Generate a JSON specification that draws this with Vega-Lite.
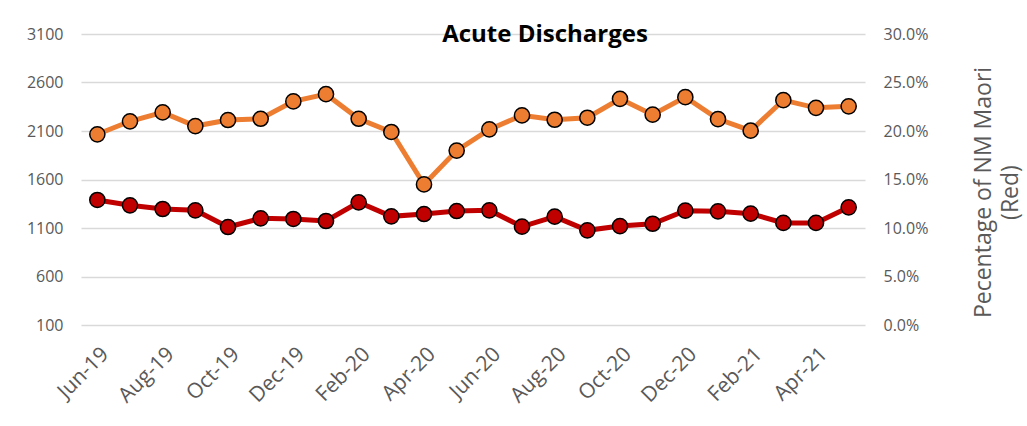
{
  "$schema": "https://vega.github.io/schema/vega-lite/v6.json",
  "autosize": "none",
  "width": 784,
  "height": 291,
  "padding": {"left": 81, "top": 34, "right": 162, "bottom": 101},
  "background": "white",
  "title": {"text": "Acute Discharges", "font": "Open Sans", "fontSize": 24, "fontWeight": "bold", "color": "#000000", "anchor": "middle", "dx": 72, "dy": 24, "offset": -16, "baseline": "alphabetic"},
  "data": {"values": [
    {"month": "Jun-19", "discharges": 2066, "pct": 0.1289},
    {"month": "Jul-19", "discharges": 2200, "pct": 0.1234},
    {"month": "Aug-19", "discharges": 2292, "pct": 0.1196},
    {"month": "Sep-19", "discharges": 2151, "pct": 0.1182},
    {"month": "Oct-19", "discharges": 2213, "pct": 0.1010},
    {"month": "Nov-19", "discharges": 2226, "pct": 0.1100},
    {"month": "Dec-19", "discharges": 2405, "pct": 0.1093},
    {"month": "Jan-20", "discharges": 2480, "pct": 0.1072},
    {"month": "Feb-20", "discharges": 2226, "pct": 0.1265},
    {"month": "Mar-20", "discharges": 2090, "pct": 0.1120},
    {"month": "Apr-20", "discharges": 1549, "pct": 0.1144},
    {"month": "May-20", "discharges": 1898, "pct": 0.1175},
    {"month": "Jun-20", "discharges": 2117, "pct": 0.1182},
    {"month": "Jul-20", "discharges": 2261, "pct": 0.1014},
    {"month": "Aug-20", "discharges": 2216, "pct": 0.1117},
    {"month": "Sep-20", "discharges": 2237, "pct": 0.0976},
    {"month": "Oct-20", "discharges": 2432, "pct": 0.1020},
    {"month": "Nov-20", "discharges": 2268, "pct": 0.1044},
    {"month": "Dec-20", "discharges": 2449, "pct": 0.1179},
    {"month": "Jan-21", "discharges": 2223, "pct": 0.1172},
    {"month": "Feb-21", "discharges": 2103, "pct": 0.1148},
    {"month": "Mar-21", "discharges": 2418, "pct": 0.1052},
    {"month": "Apr-21", "discharges": 2339, "pct": 0.1052},
    {"month": "May-21", "discharges": 2354, "pct": 0.1213}
  ]},
  "encoding": {
    "x": {
      "field": "month", "type": "ordinal", "sort": null,
      "scale": {"type": "point", "padding": 0.5},
      "axis": {
        "title": null, "values": ["Jun-19", "Aug-19", "Oct-19", "Dec-19", "Feb-20", "Apr-20", "Jun-20", "Aug-20", "Oct-20", "Dec-20", "Feb-21", "Apr-21"],
        "labelAngle": -45, "labelAlign": "right", "labelBaseline": "top", "labelPadding": 18, "labelFontSize": 21,
        "domain": false, "ticks": false, "grid": false
      }
    }
  },
  "layer": [
    {
      "mark": {"type": "line", "color": "#ED7D31", "strokeWidth": 5,
        "point": {"filled": true, "fill": "#ED7D31", "stroke": "#000000", "strokeWidth": 1.5, "size": 230, "opacity": 1}},
      "encoding": {
        "y": {"field": "discharges", "type": "quantitative", "scale": {"domain": [100, 3100], "nice": false, "zero": false},
          "axis": {"orient": "left", "title": null, "format": "d", "values": [100, 600, 1100, 1600, 2100, 2600, 3100], "grid": true, "gridColor": "#d9d9d9", "gridWidth": 1.5,
            "domain": false, "ticks": false, "labelPadding": 18, "labelFontSize": 16}}
      }
    },
    {
      "mark": {"type": "line", "color": "#C00000", "strokeWidth": 5,
        "point": {"filled": true, "fill": "#C00000", "stroke": "#000000", "strokeWidth": 1.5, "size": 230, "opacity": 1}},
      "encoding": {
        "y": {"field": "pct", "type": "quantitative", "scale": {"domain": [0, 0.3], "nice": false},
          "axis": {"orient": "right", "values": [0, 0.05, 0.1, 0.15, 0.2, 0.25, 0.3], "format": ".1%", "grid": false,
            "domain": false, "ticks": false, "labelPadding": 18, "labelFontSize": 16,
            "title": ["Pecentage of NM Maori", "(Red)"], "titleAngle": 270, "titleX": 118, "titleY": 158,
            "titleAlign": "center", "titleBaseline": "middle", "titleFontSize": 23, "titleLineHeight": 27}}
      }
    }
  ],
  "resolve": {"scale": {"y": "independent"}},
  "config": {
    "view": {"stroke": null},
    "axis": {"labelFont": "Open Sans", "labelColor": "#595959", "titleFont": "Open Sans", "titleFontWeight": "normal", "titleColor": "#595959"}
  }
}
